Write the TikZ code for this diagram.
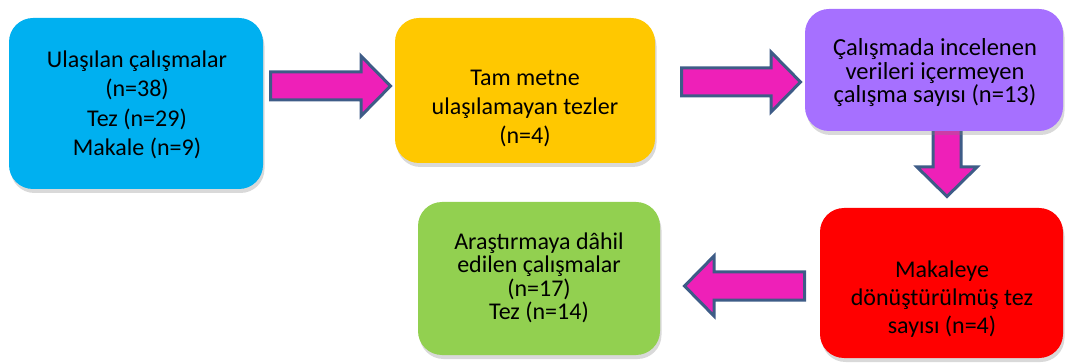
\documentclass[tikz,border=0pt]{standalone}
\usepackage{fontspec}
\setmainfont{Carlito}
\usetikzlibrary{shadows}
\definecolor{cblue}{RGB}{0,176,240}
\definecolor{cyellow}{RGB}{255,200,0}
\definecolor{cpurple}{RGB}{166,112,255}
\definecolor{cred}{RGB}{255,0,0}
\definecolor{cgreen}{RGB}{146,208,80}
\definecolor{cmag}{RGB}{238,32,184}
\definecolor{cline}{RGB}{62,92,135}
\begin{document}
\begin{tikzpicture}[x=1pt,y=-1pt,
  box/.style={rounded corners=24pt, inner sep=0pt,
    drop shadow={shadow xshift=1.5pt, shadow yshift=-4pt, opacity=0.3}},
  txt/.style={align=center, inner sep=0pt, text=black},
  barrow/.style={draw=cline, fill=cmag, line width=3pt, line join=miter}]
\useasboundingbox (0,0) rectangle (1073,363);
% block arrows (drawn as shapes)
\draw[barrow] (270.5,72) -- (361,72) -- (361,56) -- (390.5,86) -- (361,116) -- (361,100) -- (270.5,100) -- cycle;
\draw[barrow] (681.5,68) -- (771,68) -- (771,52) -- (800.5,82) -- (771,112) -- (771,96) -- (681.5,96) -- cycle;
\draw[barrow] (933,120) -- (933,167) -- (917,167) -- (947,196.5) -- (977,167) -- (961,167) -- (961,120) -- cycle;
\draw[barrow] (804.5,272) -- (714,272) -- (714,256) -- (684.5,286) -- (714,316) -- (714,300) -- (804.5,300) -- cycle;
% boxes
\node[box, fill=cblue, minimum width=254pt, minimum height=171pt] (blue) at (136,103.5) {};
\node[box, fill=cyellow, minimum width=260pt, minimum height=145pt] (yellow) at (525,90.5) {};
\node[box, fill=cpurple, minimum width=258pt, minimum height=122pt] (purple) at (934,70) {};
\node[box, fill=cred, minimum width=243pt, minimum height=150pt] (red) at (941.5,283) {};
\node[box, fill=cgreen, minimum width=242pt, minimum height=153pt] (green) at (539,278.5) {};
% texts
\node[txt, font=\fontsize{24}{29.5}\selectfont] (bluetxt) at (137,105)
  {Ulaşılan çalışmalar\\(n=38)\\Tez (n=29)\\Makale (n=9)};
\node[txt, font=\fontsize{24}{29}\selectfont] (yellowtxt) at (525,108)
  {Tam metne\\ulaşılamayan tezler\\(n=4)};
\node[txt, font=\fontsize{24.5}{23.5}\selectfont] (purpletxt) at (935,73)
  {Çalışmada incelenen\\verileri içermeyen\\çalışma sayısı (n=13)};
\node[txt, font=\fontsize{24}{28}\selectfont] (redtxt) at (942,299)
  {Makaleye\\dönüştürülmüş tez\\sayısı (n=4)};
\node[txt, font=\fontsize{24}{23.5}\selectfont] (greentxt) at (539,278)
  {Araştırmaya dâhil\\edilen çalışmalar\\(n=17)\\Tez (n=14)};
\end{tikzpicture}
\end{document}
